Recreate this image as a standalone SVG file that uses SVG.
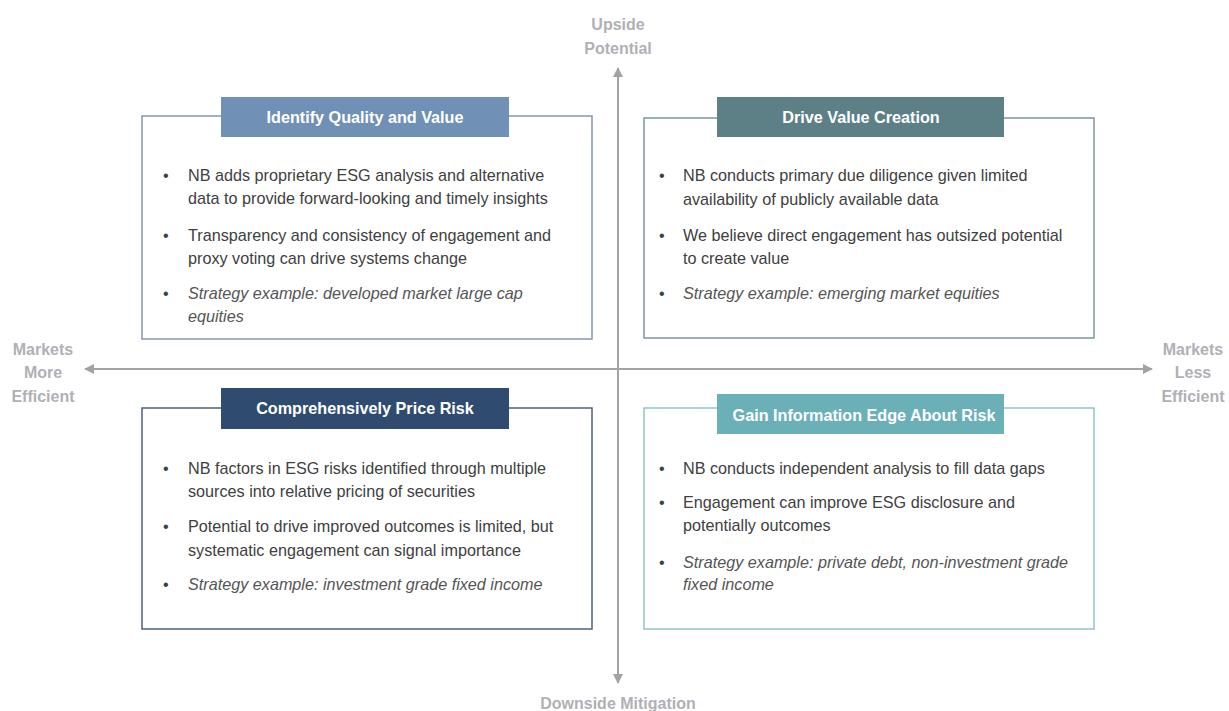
<svg xmlns="http://www.w3.org/2000/svg" width="1229" height="711" viewBox="0 0 1229 711">
<defs>
<marker id="ah" viewBox="0 0 10 10" refX="9" refY="5" markerWidth="10" markerHeight="10" markerUnits="userSpaceOnUse" orient="auto">
<path d="M0,0 L10,5 L0,10 z" fill="#a3a3a3"/>
</marker>
<style>
.ax{font-family:"Liberation Sans",Arial,sans-serif;font-size:16px;font-weight:bold;fill:#b0b0b6;text-anchor:middle}
.hd{font-family:"Liberation Sans",Arial,sans-serif;font-size:16.2px;font-weight:bold;fill:#ffffff;text-anchor:middle}
.tx{font-family:"Liberation Sans",Arial,sans-serif;font-size:16.2px;fill:#404040}
.it{font-style:italic;fill:#555555}
.box{fill:#ffffff;stroke-width:1.5}
.ln{stroke:#a3a3a3;stroke-width:2;fill:none}
</style>
</defs>
<rect width="1229" height="711" fill="#ffffff"/>
<g id="connectors">
<line class="ln" x1="618" y1="682" x2="618" y2="68" marker-end="url(#ah)"/>
<line class="ln" x1="618" y1="369" x2="618" y2="683" marker-end="url(#ah)"/>
<line class="ln" x1="618" y1="369" x2="85" y2="369" marker-end="url(#ah)"/>
<line class="ln" x1="618" y1="369" x2="1152" y2="369" marker-end="url(#ah)"/>
</g>
<g id="axis-labels">
<text class="ax" x="618" y="30">Upside</text>
<text class="ax" x="618" y="54">Potential</text>
<text class="ax" x="43" y="355">Markets</text>
<text class="ax" x="43" y="378">More</text>
<text class="ax" x="43" y="402">Efficient</text>
<text class="ax" x="1193" y="355">Markets</text>
<text class="ax" x="1193" y="378">Less</text>
<text class="ax" x="1193" y="402">Efficient</text>
<text class="ax" x="618" y="709">Downside Mitigation</text>
</g>
<g id="q-identify-quality">
<rect class="box" x="142" y="116" width="450" height="223" stroke="#8296ae"/>
<rect x="221" y="97" width="288" height="40" fill="#7090b6"/>
<text class="hd" x="365" y="123">Identify Quality and Value</text>
<g class="tx">
<text x="163" y="181">•</text><text x="188" y="181">NB adds proprietary ESG analysis and alternative</text>
<text x="188" y="204">data to provide forward-looking and timely insights</text>
<text x="163" y="241">•</text><text x="188" y="241">Transparency and consistency of engagement and</text>
<text x="188" y="264">proxy voting can drive systems change</text>
<text x="163" y="299">•</text><text x="188" y="299" class="it">Strategy example: developed market large cap</text>
<text x="188" y="322" class="it">equities</text>
</g>
</g>
<g id="q-drive-value">
<rect class="box" x="644" y="118" width="450" height="220" stroke="#7e989c"/>
<rect x="717" y="97" width="287" height="40" fill="#5d7f86"/>
<text class="hd" x="861" y="123">Drive Value Creation</text>
<g class="tx">
<text x="659" y="181">•</text><text x="683" y="181">NB conducts primary due diligence given limited</text>
<text x="683" y="205">availability of publicly available data</text>
<text x="659" y="241">•</text><text x="683" y="241">We believe direct engagement has outsized potential</text>
<text x="683" y="264">to create value</text>
<text x="659" y="299">•</text><text x="683" y="299" class="it">Strategy example: emerging market equities</text>
</g>
</g>
<g id="q-price-risk">
<rect class="box" x="142" y="408" width="450" height="221" stroke="#4f627c"/>
<rect x="221" y="388" width="288" height="41" fill="#2f4b6f"/>
<text class="hd" x="365" y="414">Comprehensively Price Risk</text>
<g class="tx">
<text x="163" y="474">•</text><text x="188" y="474">NB factors in ESG risks identified through multiple</text>
<text x="188" y="497">sources into relative pricing of securities</text>
<text x="163" y="532">•</text><text x="188" y="532">Potential to drive improved outcomes is limited, but</text>
<text x="188" y="556">systematic engagement can signal importance</text>
<text x="163" y="590">•</text><text x="188" y="590" class="it">Strategy example: investment grade fixed income</text>
</g>
</g>
<g id="q-information-edge">
<rect class="box" x="644" y="408" width="450" height="221" stroke="#90c3c8"/>
<rect x="717" y="394" width="287" height="40" fill="#6cb0b7"/>
<text class="hd" x="864" y="421">Gain Information Edge About Risk</text>
<g class="tx">
<text x="659" y="474">•</text><text x="683" y="474">NB conducts independent analysis to fill data gaps</text>
<text x="659" y="508">•</text><text x="683" y="508">Engagement can improve ESG disclosure and</text>
<text x="683" y="531">potentially outcomes</text>
<text x="659" y="568">•</text><text x="683" y="568" class="it">Strategy example: private debt, non-investment grade</text>
<text x="683" y="590" class="it">fixed income</text>
</g>
</g>
</svg>
